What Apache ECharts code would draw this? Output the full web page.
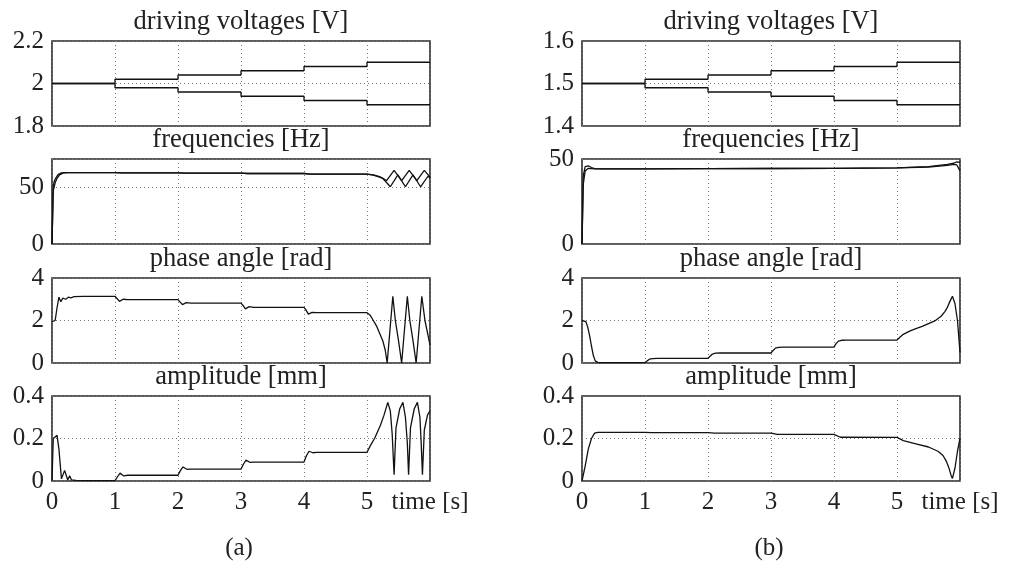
<!DOCTYPE html>
<html>
<head>
<meta charset="utf-8">
<script src="https://cdn.jsdelivr.net/npm/echarts@6/dist/echarts.min.js"></script>
<style>
html,body{margin:0;padding:0;background:#fff;}
#chart{width:1015px;height:562px;}
</style>
</head>
<body>
<div id="chart"></div>
<script>
// ---------- data ----------
const panelTitles = ['driving voltages [V]', 'frequencies [Hz]', 'phase angle [rad]', 'amplitude [mm]'];
const captions = ['(a)', '(b)'];
const timeTicks = [0, 1, 2, 3, 4, 5, 6];
const timeAxisLabel = 'time [s]';

// (a) driving voltages (step levels over timeTicks)
const voltUpA  = [2.00, 2.02, 2.04, 2.06, 2.08, 2.10, 2.10];
const voltLowA = [2.00, 1.98, 1.96, 1.94, 1.92, 1.90, 1.90];
// (b) driving voltages
const voltUpB  = [1.50, 1.51, 1.52, 1.53, 1.54, 1.55, 1.55];
const voltLowB = [1.50, 1.49, 1.48, 1.47, 1.46, 1.45, 1.45];

// (a) frequencies
const freqA1T = [0, 0.02, 0.04, 0.07, 0.1, 0.15, 0.25, 1.0, 1.1, 2.0, 2.1, 3.0, 3.1, 4.0, 4.1, 5.0, 5.1, 5.2, 5.31, 5.43, 5.55, 5.67, 5.79, 5.91, 6.0];
const freqA1V = [0, 52, 56, 59, 61.5, 62.8, 63, 63, 62.8, 62.8, 62.5, 62.5, 62.2, 62.2, 61.6, 61.6, 61, 59.5, 56, 65, 56, 65, 56, 65, 59];
const freqA2T = [0, 0.02, 0.05, 0.08, 0.12, 0.18, 0.25, 1.0, 1.1, 2.0, 2.1, 3.0, 3.1, 4.0, 4.1, 5.0, 5.1, 5.2, 5.25, 5.37, 5.49, 5.61, 5.73, 5.85, 5.97, 6.0];
const freqA2V = [0, 47, 54, 58, 61, 62.7, 63, 63, 62.8, 62.8, 62.5, 62.5, 62.2, 62.2, 61.6, 61.6, 60.8, 59, 58, 50.5, 61, 50.5, 61, 50.5, 60, 58];
// (b) frequencies
const freqB1T = [0, 0.02, 0.05, 0.1, 0.15, 0.2, 0.3, 1, 2, 3, 4, 5, 5.5, 5.8, 5.9, 5.95, 6.0];
const freqB1V = [0, 40, 45.5, 46, 45, 44.3, 44.2, 44.2, 44.3, 44.4, 44.5, 44.8, 45.5, 46.8, 47.5, 48.3, 48];
const freqB2T = [0, 0.02, 0.05, 0.1, 0.2, 0.3, 1, 2, 3, 4, 5, 5.5, 5.8, 5.9, 5.95, 6.0];
const freqB2V = [0, 35, 43, 44.5, 44.2, 44.2, 44.2, 44.3, 44.4, 44.5, 44.8, 45.3, 46.3, 46.8, 46.5, 43];

// (a) phase angle
const phaseAT = [0, 0.05, 0.08, 0.11, 0.14, 0.17, 0.19, 0.22, 0.26, 0.3, 0.35, 0.5, 1.0, 1.03, 1.07, 1.13, 1.2, 2.0, 2.03, 2.07, 2.13, 2.2, 3.0, 3.03, 3.07, 3.13, 3.2, 4.0, 4.03, 4.07, 4.13, 4.2, 5.0, 5.05, 5.1, 5.15, 5.2, 5.25, 5.29, 5.32, 5.41, 5.45, 5.5, 5.55, 5.64, 5.68, 5.73, 5.78, 5.87, 5.92, 6.0];
const phaseAV = [1.95, 2.0, 2.6, 3.1, 2.88, 3.05, 3.1, 3.0, 3.1, 3.07, 3.12, 3.14, 3.14, 3.05, 2.9, 3.0, 2.98, 2.98, 2.9, 2.75, 2.84, 2.82, 2.82, 2.72, 2.55, 2.65, 2.62, 2.62, 2.5, 2.3, 2.38, 2.37, 2.37, 2.25, 2.0, 1.75, 1.4, 1.05, 0.6, 0, 3.14, 2.0, 1.05, 0, 3.14, 2.0, 1.05, 0, 3.14, 2.0, 0.85];
// (b) phase angle
const phaseBT = [0, 0.06, 0.09, 0.12, 0.15, 0.18, 0.21, 0.25, 0.3, 0.5, 1.0, 1.03, 1.07, 1.12, 1.2, 2.0, 2.03, 2.07, 2.12, 2.2, 3.0, 3.03, 3.07, 3.12, 3.2, 4.0, 4.03, 4.07, 4.12, 4.2, 5.0, 5.05, 5.1, 5.2, 5.3, 5.4, 5.5, 5.6, 5.7, 5.76, 5.8, 5.84, 5.88, 5.92, 5.96, 6.0];
const phaseBV = [2.0, 1.95, 1.7, 1.3, 0.8, 0.35, 0.1, 0.03, 0.02, 0.02, 0.02, 0.1, 0.18, 0.21, 0.22, 0.22, 0.3, 0.42, 0.46, 0.47, 0.47, 0.58, 0.7, 0.74, 0.75, 0.75, 0.9, 1.03, 1.07, 1.08, 1.08, 1.22, 1.35, 1.5, 1.62, 1.72, 1.85, 1.98, 2.2, 2.42, 2.62, 2.9, 3.14, 2.8, 2.0, 0.5];

// (a) amplitude
const ampAT = [0, 0.02, 0.05, 0.08, 0.11, 0.15, 0.2, 0.25, 0.28, 0.31, 0.34, 0.38, 0.5, 1.0, 1.04, 1.08, 1.14, 1.2, 2.0, 2.04, 2.08, 2.14, 2.2, 3.0, 3.04, 3.08, 3.14, 3.2, 4.0, 4.04, 4.08, 4.14, 4.2, 5.0, 5.06, 5.12, 5.21, 5.27, 5.33, 5.37, 5.4, 5.43, 5.46, 5.52, 5.57, 5.61, 5.64, 5.66, 5.69, 5.75, 5.8, 5.84, 5.86, 5.88, 5.91, 5.96, 6.0];
const ampAV = [0, 0.2, 0.2, 0.215, 0.15, 0.01, 0.05, 0.005, 0.025, 0.005, 0.012, 0.003, 0.002, 0.002, 0.02, 0.037, 0.024, 0.027, 0.027, 0.05, 0.066, 0.055, 0.056, 0.056, 0.08, 0.098, 0.088, 0.089, 0.089, 0.12, 0.14, 0.133, 0.135, 0.135, 0.17, 0.2, 0.26, 0.31, 0.37, 0.33, 0.22, 0.03, 0.25, 0.34, 0.37, 0.3, 0.18, 0.03, 0.25, 0.34, 0.37, 0.3, 0.18, 0.03, 0.24, 0.31, 0.33];
// (b) amplitude
const ampBT = [0, 0.05, 0.1, 0.15, 0.2, 0.25, 0.4, 1.0, 1.1, 2.0, 2.1, 3.0, 3.1, 4.0, 4.1, 5.0, 5.1, 5.3, 5.5, 5.65, 5.73, 5.78, 5.82, 5.86, 5.88, 5.92, 5.96, 6.0];
const ampBV = [0, 0.07, 0.15, 0.2, 0.225, 0.229, 0.229, 0.229, 0.228, 0.228, 0.225, 0.225, 0.219, 0.219, 0.206, 0.205, 0.19, 0.175, 0.16, 0.14, 0.12, 0.095, 0.065, 0.025, 0.012, 0.06, 0.14, 0.2];

// y-axis definitions per row: [min, max, interval] for (a) and (b)
const yAxesA = [[1.8, 2.2, 0.2], [0, 75, 50], [0, 4, 2], [0, 0.4, 0.2]];
const yAxesB = [[1.4, 1.6, 0.1], [0, 50, 50], [0, 4, 2], [0, 0.4, 0.2]];

// ---------- layout ----------
const FONT = 'Liberation Serif';
const FS = 25;
const FS_TITLE = 26.5;
const colLeft = [52, 582];
const colWidth = 378;
const rowTop = [41, 159, 278, 396];
const rowHeight = 85;

function zip(t, v) { return t.map((x, i) => [x, v[i]]); }

const seriesData = [
  [[zip(timeTicks, voltUpA), zip(timeTicks, voltLowA)], [zip(freqA1T, freqA1V), zip(freqA2T, freqA2V)], [zip(phaseAT, phaseAV)], [zip(ampAT, ampAV)]],
  [[zip(timeTicks, voltUpB), zip(timeTicks, voltLowB)], [zip(freqB1T, freqB1V), zip(freqB2T, freqB2V)], [zip(phaseBT, phaseBV)], [zip(ampBT, ampBV)]]
];

const grids = [], xAxes = [], yAxes = [], series = [], titles = [];
const yDefs = [yAxesA, yAxesB];
let gi = 0;
for (let c = 0; c < 2; c++) {
  for (let r = 0; r < 4; r++) {
    grids.push({
      left: colLeft[c], top: rowTop[r], width: colWidth, height: rowHeight,
      show: true, borderColor: '#2a2a2a', borderWidth: 1.6, backgroundColor: 'transparent', containLabel: false
    });
    const last = r === 3;
    xAxes.push({
      type: 'value', gridIndex: gi, min: 0, max: 6, interval: 1,
      axisLine: { show: false }, axisTick: { show: false },
      splitLine: { show: true, lineStyle: { type: [1, 3], color: '#777', width: 1 } },
      axisLabel: {
        show: last, margin: 9, color: '#222', fontFamily: FONT, fontSize: FS,
        formatter: v => (v === 6 ? timeAxisLabel : String(v))
      }
    });
    const [mn, mx, iv] = yDefs[c][r];
    yAxes.push({
      type: 'value', gridIndex: gi, min: mn, max: mx, interval: iv,
      axisLine: { show: false }, axisTick: { show: false },
      splitLine: { show: true, lineStyle: { type: [1, 3], color: '#777', width: 1 } },
      axisLabel: {
        margin: 8, color: '#222', fontFamily: FONT, fontSize: FS,
        formatter: v => {
          const k = Math.round((v - mn) / iv * 1000) / 1000;
          if (Math.abs(k - Math.round(k)) > 1e-6) return '';
          return String(parseFloat(v.toFixed(3)));
        }
      }
    });
    seriesData[c][r].forEach(d => {
      series.push({
        type: 'line', xAxisIndex: gi, yAxisIndex: gi, data: d,
        step: r === 0 ? 'end' : false,
        showSymbol: false, symbol: 'none', silent: true, animation: false,
        lineStyle: { color: '#111', width: 1.3 }, z: 3
      });
    });
    titles.push({
      text: panelTitles[r], left: colLeft[c] + colWidth / 2, top: rowTop[r] - 32,
      textAlign: 'center', padding: 0,
      textStyle: { fontFamily: FONT, fontSize: FS_TITLE, fontWeight: 'normal', color: '#222' }
    });
    gi++;
  }
  titles.push({
    text: captions[c], left: colLeft[c] + colWidth / 2 - 2, top: 536,
    textAlign: 'center', padding: 0,
    textStyle: { fontFamily: FONT, fontSize: FS, fontWeight: 'normal', color: '#222' }
  });
}

const chart = echarts.init(document.getElementById('chart'));
chart.setOption({
  backgroundColor: '#fff',
  animation: false,
  title: titles,
  grid: grids,
  xAxis: xAxes,
  yAxis: yAxes,
  series: series
});
</script>
</body>
</html>
